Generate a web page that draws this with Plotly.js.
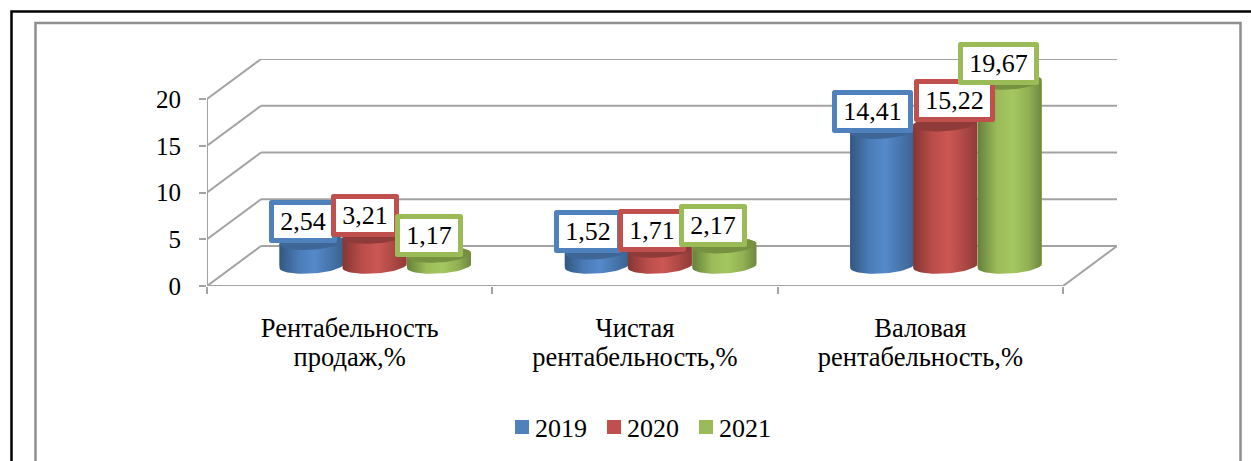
<!DOCTYPE html>
<html><head><meta charset="utf-8">
<script src="https://cdn.plot.ly/plotly-3.0.1.min.js"></script>
<style>html,body{margin:0;padding:0;background:#fff}#c{width:1251px;height:461px}
.annotation rect{stroke-linejoin:round}</style>
</head><body><div id="c"></div>
<script>
const categoryLine1 = ["Рентабельность", "Чистая", "Валовая"];
const categoryLine2 = ["продаж,%", "рентабельность,%", "рентабельность,%"];
const years = ["2019", "2020", "2021"];
const v2019 = [2.54, 1.52, 14.41];
const v2020 = [3.21, 1.71, 15.22];
const v2021 = [1.17, 2.17, 19.67];
const yTicks = [0, 5, 10, 15, 20];
const colors = ["#4f81bd", "#c0504d", "#9bbb59"];
const shades = [
  [[0,"#33577f"],[0.3,"#4a7cb8"],[0.55,"#5589ca"],[0.8,"#4674aa"],[1,"#3a6290"]],
  [[0,"#853633"],[0.3,"#b94d4a"],[0.55,"#cc5753"],[0.8,"#ad4845"],[1,"#8f3b39"]],
  [[0,"#66803a"],[0.3,"#9abb58"],[0.55,"#a5c75f"],[0.8,"#91b053"],[1,"#6d883e"]]
];
const capColors = ["#3e6696", "#8f3b39", "#76913f"];
const series = [v2019, v2020, v2021];

// pixel geometry of the plot frame
const L = 207, R = 1117, T = 59, B = 286;
const pxX = (1063 - 207) / 3, pxY = 187 / 20;
const xMin = -0.5, xMax = xMin + (R - L) / pxX, yMax = (B - T) / pxY;
const depthX = 54 / pxX, depthY = 40 / pxY;
const xFront = 2.5;
const baseY = 20 / pxY, centreShift = 0.087;
const offs = [-63 / pxX, 0, 64.5 / pxX];
const rx = 32 / pxX, ry = 7.5 / pxY, tilt = 2 / pxY;
const labelDX = [[-8.5,-9,-10],[-9,-8,-11],[-10,9,-11]];
const labelDY = [[20.5,20,20],[20,20,20],[20,23.5,19]];

const px = x => (x - L) / (R - L), py = y => (B - y) / (B - T);
const lineSt = {color: "#a3a3a3", width: 2};
const shapes = [];
yTicks.forEach(t => {
  shapes.push({type:"line", xref:"x", yref:"y", layer:"below", x0:xMin, y0:t, x1:xMin+depthX, y1:t+depthY, line:lineSt});
  shapes.push({type:"line", xref:"x", yref:"y", layer:"below", x0:xMin+depthX, y0:t+depthY, x1:xFront+depthX, y1:t+depthY, line:lineSt});
});
shapes.push({type:"line", xref:"x", yref:"y", layer:"below", x0:xMin, y0:0, x1:xMin, y1:20, line:lineSt});
shapes.push({type:"line", xref:"x", yref:"y", layer:"below", x0:xMin, y0:0, x1:xFront, y1:0, line:lineSt});
shapes.push({type:"line", xref:"x", yref:"y", layer:"below", x0:xFront, y0:0, x1:xFront+depthX, y1:depthY, line:lineSt});
// page frames
shapes.push({type:"rect", xref:"paper", yref:"paper", layer:"below", x0:px(11.5), x1:px(1270), y0:py(11.5), y1:py(480), line:{color:"#000", width:2.5}});
shapes.push({type:"rect", xref:"paper", yref:"paper", layer:"below", x0:px(35.5), x1:px(1240.5), y0:py(23), y1:py(480), line:{color:"#8f8f8f", width:2.5}});

const traces = [], overlay = [], annotations = [];
series.forEach((vals, s) => {
  const xs = vals.map((_, i) => i + centreShift + offs[s]);
  traces.push({type:"bar", name:years[s], x:xs, y:vals, base:vals.map(()=>baseY), width:2*rx,
    marker:{color:colors[s], line:{width:0}}, hoverinfo:"skip"});
  vals.forEach((v, i) => {
    const cx = xs[i], top = baseY + v;
    const ox = [], oy = [];
    for (let a = 180; a >= 0; a -= 6) { // bottom front arc, left to right
      const r = a * Math.PI / 180;
      ox.push(cx + rx * Math.cos(r)); oy.push(baseY - ry * Math.sin(r) + tilt * Math.cos(r));
    }
    for (let a = 0; a <= 180; a += 6) { // top rear arc, right to left
      const r = a * Math.PI / 180;
      ox.push(cx + rx * Math.cos(r)); oy.push(top + ry * Math.sin(r) + tilt * Math.cos(r));
    }
    overlay.push({type:"scatter", mode:"lines", x:ox, y:oy, fill:"toself", line:{width:0},
      fillgradient:{type:"horizontal", colorscale:shades[s], start:cx-rx, stop:cx+rx},
      showlegend:false, hoverinfo:"skip"});
    const cxs = [], cys = [];
    for (let a = 0; a <= 360; a += 6) {
      const r = a * Math.PI / 180;
      cxs.push(cx + rx * Math.cos(r)); cys.push(top + ry * Math.sin(r) + tilt * Math.cos(r));
    }
    overlay.push({type:"scatter", mode:"lines", x:cxs, y:cys, fill:"toself", line:{width:0},
      fillcolor:capColors[s], showlegend:false, hoverinfo:"skip"});
  });
});
// labels: later series sit on top of earlier ones
for (let i = 0; i < 3; i++) series.forEach((vals, s) => {
  const txt = vals[i].toFixed(2).replace(".", ",");
  annotations.push({xref:"x", yref:"y", x:i+centreShift+offs[s], y:baseY+vals[i], text:txt, showarrow:false,
    xshift:labelDX[i][s], yshift:labelDY[i][s], align:"center", valign:"middle",
    width: txt.length > 4 ? 69 : 56, height: 31, borderpad:1, borderwidth:5,
    bgcolor:"#fff", bordercolor:colors[s], font:{family:"Liberation Serif", size:26, color:"#000"}});
});
const dummy = {type:"scatter", mode:"markers", x:[0], y:[-100], xaxis:"x2", yaxis:"y", showlegend:false, hoverinfo:"skip", marker:{opacity:0}};

const catFont = {family:"Liberation Serif", size:26.5, color:"#000"};
Plotly.newPlot("c", traces.concat(overlay, [dummy]), {
  width:1251, height:461, margin:{l:L, r:1251-R, t:T, b:461-B, pad:0, autoexpand:false},
  paper_bgcolor:"#fff", plot_bgcolor:"#fff", barmode:"overlay",
  font:{family:"Liberation Serif", size:25, color:"#000"},
  showlegend:true,
  legend:{orientation:"h", x:px(502), xanchor:"left", y:py(427), yanchor:"middle", bgcolor:"rgba(0,0,0,0)",
    font:{family:"Liberation Serif", size:26}, traceorder:"normal", itemclick:false},
  xaxis:{type:"linear", range:[xMin, xMax], tickmode:"array", tickvals:[0,1,2], ticktext:categoryLine1,
    ticks:"", showgrid:false, zeroline:false, showline:false, automargin:false, tickangle:0, ticklabelstandoff:23,
    tickfont:catFont,
    minor:{tickmode:"array", tickvals:[-0.5,0.5,1.5,2.5], ticks:"outside", ticklen:7, tickwidth:2, tickcolor:"#a3a3a3", showgrid:false}},
  xaxis2:{type:"linear", overlaying:"x", side:"bottom", anchor:"y", range:[xMin, xMax], tickmode:"array", tickvals:[0,1,2], ticktext:categoryLine2,
    ticks:"", showgrid:false, zeroline:false, showline:false, automargin:false, tickangle:0, ticklabelstandoff:52,
    tickfont:catFont},
  yaxis:{type:"linear", range:[0, yMax], tickmode:"array", tickvals:yTicks, ticks:"outside", ticklen:7, tickwidth:2,
    tickcolor:"#a3a3a3", showgrid:false, zeroline:false, showline:false, automargin:false, ticklabelstandoff:13,
    tickfont:{family:"Liberation Serif", size:25}},
  shapes:shapes, annotations:annotations
}, {staticPlot:true, displayModeBar:false}).then(gd => {
  // tighten the legend to the reference's swatch size, text gap and item pitch
  gd.querySelectorAll(".legend .traces").forEach((item, i) => {
    const dx = -5 * i;
    const sym = item.querySelector(".legendsymbols");
    const txt = item.querySelector(".legendtext");
    if (sym) sym.style.transform = `translateX(${dx}px)`;
    if (txt) txt.style.transform = `translateX(${dx - 7}px)`;
    item.querySelectorAll(".legendpoints path").forEach(p => { p.style.transform = "translate(20px,0) scale(1.17)"; });
  });
});
</script></body></html>
